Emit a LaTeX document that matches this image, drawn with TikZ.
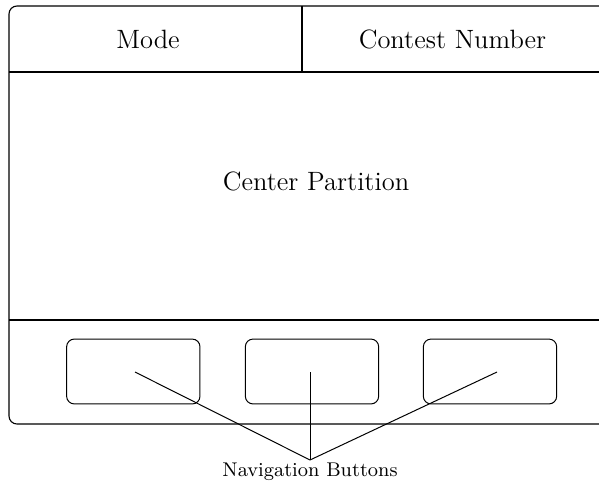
\documentclass[tikz,border=0pt]{standalone}
\begin{document}
\begin{tikzpicture}[
  x=0.453pt, y=-0.453pt,
  frame/.style={draw, line width=0.5pt},
  bigtext/.style={font=\fontsize{12}{14}\selectfont, anchor=base, inner sep=0pt},
  smalltext/.style={font=\fontsize{9}{11}\selectfont, inner sep=0pt},
  button/.style={draw, rounded corners=3.5pt, line width=0.45pt},
  wire/.style={line width=0.45pt}
]
\useasboundingbox (0,0) rectangle (599,481);
\begin{scope}
\clip (0,0) rectangle (599,481);
% outer screen frame, right edge runs off the page
\draw[frame, rounded corners=3.6pt] (9,6) rectangle (640,424);
% header and footer separators
\draw[frame] (9,72) -- (640,72);
\draw[frame] (302,6) -- (302,72);
\draw[frame] (9,320) -- (640,320);
\end{scope}

% labels
\node[bigtext] (mode) at (148,48) {Mode};
\node[bigtext] (contest) at (452.5,48) {Contest Number};
\node[bigtext] (center) at (316,190) {Center Partition};

% navigation buttons
\node[button, minimum width=60.4pt, minimum height=29.4pt] (b1) at (133.3,371.5) {};
\node[button, minimum width=60.4pt, minimum height=29.4pt] (b2) at (312,371.5) {};
\node[button, minimum width=60.4pt, minimum height=29.4pt] (b3) at (490,371.5) {};

\coordinate (t1) at (135,372);
\coordinate (t2) at (310,372);
\coordinate (t3) at (497,372);

\node[smalltext, anchor=north] (nav) at (310,462) {Navigation Buttons};
\coordinate (hub) at (310,460);

\draw[wire] (hub) -- (t1);
\draw[wire] (hub) -- (t2);
\draw[wire] (hub) -- (t3);
\end{tikzpicture}
\end{document}
